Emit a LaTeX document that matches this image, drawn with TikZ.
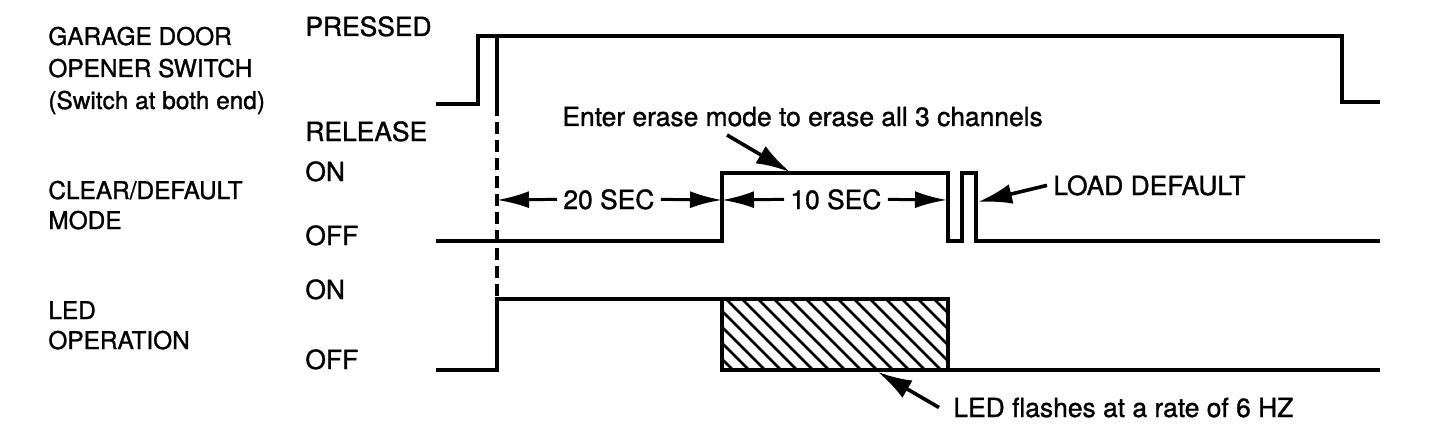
\documentclass[tikz,border=0pt]{standalone}
\usepackage{fontspec}
\setmainfont{TeX Gyre Heros}[FakeBold=1.2]
\usetikzlibrary{
    arrows.meta,
    positioning
}

\begin{document}
\begin{tikzpicture}[x=0.5pt,y=-0.5pt,
    wave/.style={line width=2.1pt,line join=miter},
    lbl/.style={anchor=base west,inner sep=0pt,font=\fontsize{12.2}{14}\selectfont},
    note/.style={anchor=base west,inner sep=0pt,font=\fontsize{13.2}{15}\selectfont},
    dim/.style={line width=1.5pt,-{Latex[length=16pt,width=8.5pt]}},
    pointer/.style={line width=1.8pt,-{Latex[length=17pt,width=10pt]}}
]
    \useasboundingbox (0,0) rectangle (1440,444);
    % signal names
    \node[lbl] (gdoA) at (48,45) {GARAGE DOOR};
    \node[lbl] (gdoB) at ([yshift=-16pt]gdoA.base west) {OPENER SWITCH};
    \node[lbl] (gdoC) at ([yshift=-16pt]gdoB.base west) {(Switch at both end)};
    \node[lbl] (cdmA) at (48,199) {CLEAR/DEFAULT};
    \node[lbl] (cdmB) at ([yshift=-15pt]cdmA.base west) {MODE};
    \node[lbl] (ledA) at (48,319) {LED};
    \node[lbl] (ledB) at ([yshift=-15pt]ledA.base west) {OPERATION};
    % levels
    \node[note] (pressed) at (305,36) {PRESSED};
    \node[note] (release) at (305,141) {RELEASE};
    \node[note] (cdmOn) at (305,181) {ON};
    \node[note] (cdmOff) at (305,245) {OFF};
    \node[note] (ledOn) at (305,299) {ON};
    \node[note] (ledOff) at (305,369) {OFF};
    % waveforms
    \draw[wave] (436,104) -- (478,104) -- (478,36) -- (1342,36) -- (1342,102) -- (1380,102);
    \draw[wave] (497,36) -- (497,104);
    \draw[line width=1.6pt,dash pattern=on 6pt off 3pt] (497,104) -- (497,299);
    \draw[wave] (436,241) -- (722,241) -- (722,173) -- (948,173) -- (948,241)
        -- (962,241) -- (962,173) -- (976,173) -- (976,241) -- (1380,241);
    \draw[wave] (436,370) -- (497,370) -- (497,299) -- (722,299);
    \begin{scope}
        \clip (722,299) rectangle (948,370);
        \foreach \h in {646,662,...,948}
            \draw[line width=1.4pt] (\h,299) -- ++(71,71);
    \end{scope}
    \draw[wave] (722,299) rectangle (948,370);
    \draw[wave] (948,370) -- (1380,370);
    % timing
    \coordinate (tPress) at (497,200);
    \coordinate (tOn) at (722,200);
    \coordinate (tOff) at (947,200);
    \node[note] (sec20) at (563,209) {20 SEC};
    \node[note] (sec10) at (790,209) {10 SEC};
    \draw[dim] ([xshift=-3pt]sec20.west) -- (tPress);
    \draw[dim] ([xshift=3pt]sec20.east) -- (tOn);
    \draw[dim] ([xshift=-3pt]sec10.west) -- (tOn);
    \draw[dim] ([xshift=3pt]sec10.east) -- (tOff);
    % notes
    \node[note] (erase) at (562,126) {Enter erase mode to erase all 3 channels};
    \coordinate (eraseTail) at (727,135);
    \coordinate (eraseTip) at (790,172);
    \draw[pointer] (eraseTail) -- (eraseTip);
    \node[note] (load) at (1053,195) {LOAD DEFAULT};
    \coordinate (loadTip) at (978,202);
    \draw[pointer] ([xshift=-3pt]load.west) -- (loadTip);
    \node[note] (flash) at (953,417) {LED flashes at a rate of 6 HZ};
    \coordinate (flashTip) at (878,372);
    \draw[pointer] ([xshift=-7pt]flash.west) -- (flashTip);
\end{tikzpicture}
\end{document}
